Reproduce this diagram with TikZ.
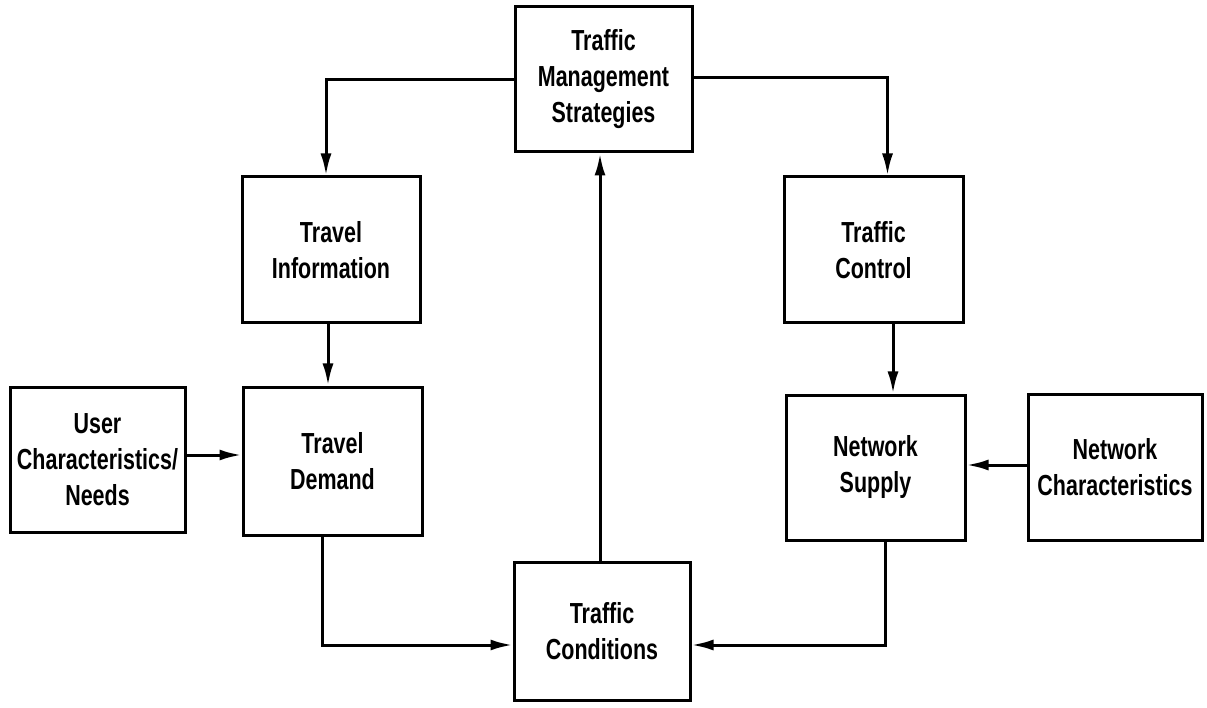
\documentclass[tikz,border=0pt]{standalone}
\usepackage{fontspec}
\usepackage{tikz}
\usetikzlibrary{arrows.meta}
\newfontfamily\boxfont[FakeStretch=0.74]{Liberation Sans}

\begin{document}
\begin{tikzpicture}[x=1pt, y=-1pt, >={Latex[length=22pt,width=11pt]},
                    every path/.style={line width=3pt},
                    block/.style={draw=black, line width=3pt, align=center,
                                  minimum width=178pt, minimum height=146pt, inner sep=0pt,
                                  font=\boxfont\bfseries\fontsize{29}{36}\selectfont}]
\useasboundingbox (0,0) rectangle (1207,708);

\node[block, minimum height=145pt, minimum width=177pt] (tms) at (603.5,79.5) {Traffic\\Management\\Strategies};
\node[block] (tinfo) at (331,250) {Travel\\Information};
\node[block, minimum width=179pt] (tctrl) at (873.5,250) {Traffic\\Control};
\node[block, minimum width=175pt, minimum height=145pt] (user) at (97.5,459.5) {User\\Characteristics/\\Needs};
\node[block, minimum width=179pt, minimum height=148pt] (tdem) at (332.5,461) {Travel\\Demand};
\node[block, minimum width=179pt, minimum height=145pt] (nsup) at (875.5,467.5) {Network\\Supply};
\node[block, minimum width=174pt] (nchar) at (1115,467) {Network\\Characteristics};
\node[block, minimum width=176pt, minimum height=138pt] (tcond) at (602,631) {Traffic\\Conditions};

\draw[->] (tms.west) -| ([xshift=-5pt]tinfo.north);
\draw[->] ([yshift=2pt]tms.east) -| ([xshift=14pt]tctrl.north);
\draw[->] ([xshift=-3pt]tinfo.south) -- ([xshift=-4.5pt]tdem.north);
\draw[->] ([xshift=19.5pt]tctrl.south) -- ([xshift=17.5pt]nsup.north);
\draw[->] ([yshift=4.5pt]user.east) -- ([yshift=6pt]tdem.west);
\draw[->] ([yshift=2pt]nchar.west) -- ([yshift=2.5pt]nsup.east);
\draw[->] ([xshift=-10pt]tdem.south) |- ([yshift=-14pt]tcond.west);
\draw[->] ([xshift=10pt]nsup.south) |- ([yshift=-14pt]tcond.east);
\draw[->] ([xshift=-2pt]tcond.north) -- ([xshift=-2pt]tcond.north |- tms.south);
\end{tikzpicture}
\end{document}
